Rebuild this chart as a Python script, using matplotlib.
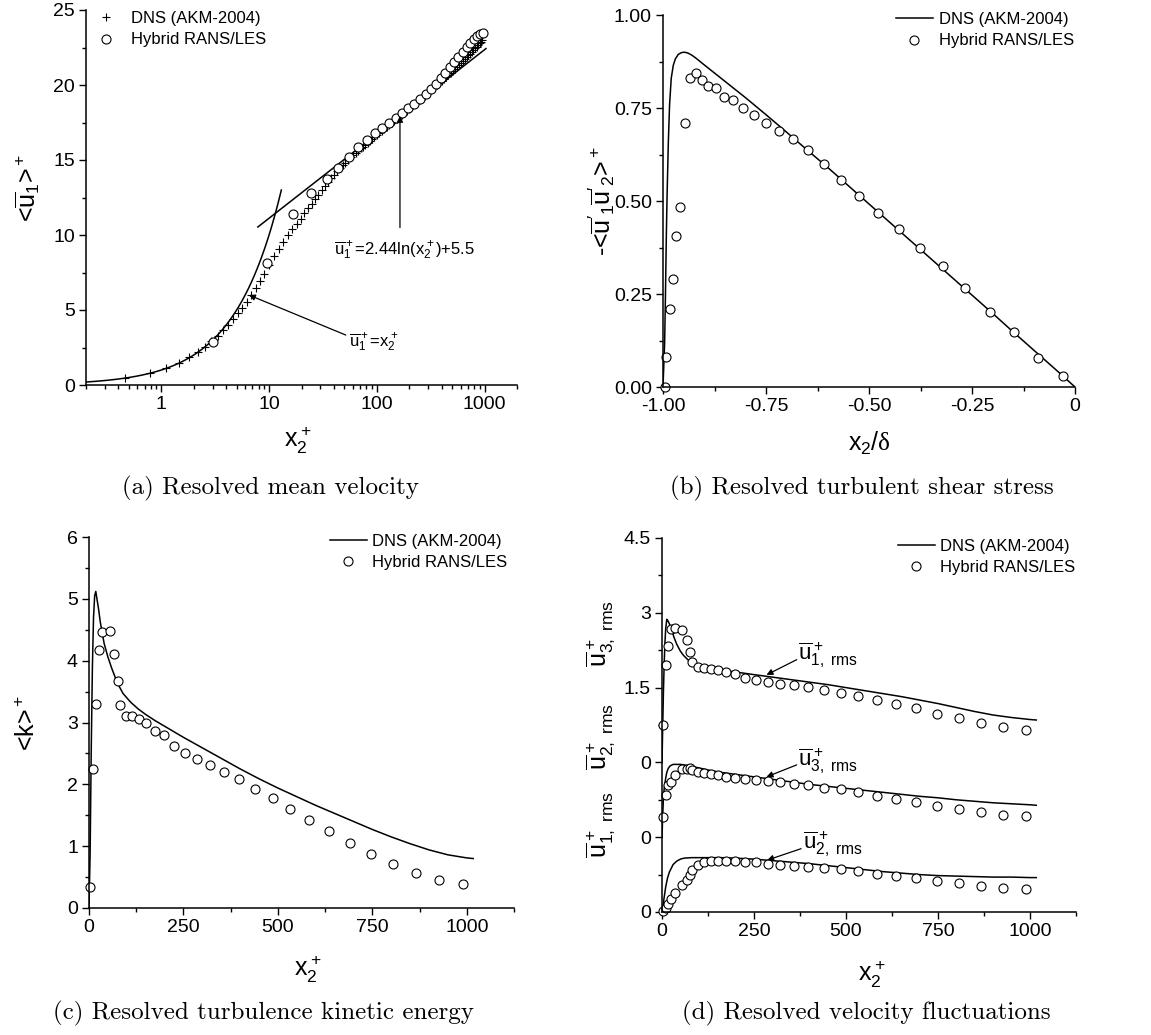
import numpy as np
import matplotlib
matplotlib.use("Agg")
import matplotlib.pyplot as plt
from matplotlib.ticker import FixedLocator, MultipleLocator, LogLocator, NullFormatter, FixedFormatter

plt.rcParams['font.family'] = ['Liberation Sans', 'DejaVu Sans']
plt.rcParams['mathtext.fontset'] = 'custom'
plt.rcParams['mathtext.rm'] = 'Liberation Sans'
plt.rcParams['mathtext.it'] = 'Liberation Sans'
plt.rcParams['mathtext.bf'] = 'Liberation Sans:bold'
plt.rcParams['mathtext.cal'] = 'Liberation Serif'
plt.rcParams['axes.unicode_minus'] = False

# ---------------- (a) mean velocity ----------------
dns_a_x = [0.46, 0.78, 1.10, 1.47, 1.82, 2.18, 2.55, 2.92, 3.34, 3.75, 4.17, 4.64, 5.13, 5.63,
           6.18, 6.83, 7.49, 8.2, 8.95, 9.96, 11.1, 12.3, 13.6, 15.0, 16.5, 18.0, 19.6, 21.3,
           23.0, 24.8, 26.7, 28.7, 30.8, 33.0, 35.3, 37.7, 40.2, 42.8, 45.5, 48.3, 51.2, 54.2,
           57.3, 60.5, 63.8, 67.2, 70.7, 74.3, 78.0, 82.0, 86.0, 90.0, 95.0, 100, 105, 111, 117,
           123, 130, 137, 145, 153, 161, 170, 180, 190, 200, 212, 224, 237, 250, 264, 279, 294,
           310, 327, 344, 362, 381, 400, 420, 441, 462, 484, 507, 530, 554, 578, 603, 628, 654,
           680, 707, 734, 761, 789, 817, 845, 873, 901, 929, 955]
dns_a_u = [0.49, 0.82, 1.11, 1.50, 1.85, 2.20, 2.55, 2.92, 3.30, 3.67, 4.02, 4.40, 4.78, 5.16,
           5.56, 5.98, 6.45, 6.95, 7.42, 7.98, 8.58, 9.10, 9.56, 10.00, 10.40, 10.75, 11.10, 11.45,
           11.77, 12.08, 12.40, 12.69, 12.98, 13.26, 13.53, 13.78, 14.01, 14.24, 14.45, 14.64, 14.82, 15.00,
           15.17, 15.33, 15.48, 15.63, 15.77, 15.90, 16.03, 16.16, 16.29, 16.41, 16.55, 16.69, 16.81, 16.95, 17.08,
           17.21, 17.35, 17.48, 17.62, 17.76, 17.90, 18.03, 18.17, 18.30, 18.43, 18.58, 18.73, 18.87, 19.01, 19.16, 19.30, 19.44,
           19.58, 19.73, 19.86, 20.01, 20.14, 20.28, 20.42, 20.56, 20.69, 20.82, 20.96, 21.09, 21.21, 21.35, 21.47, 21.60, 21.72,
           21.84, 21.97, 22.09, 22.21, 22.33, 22.44, 22.55, 22.66, 22.78, 22.90, 23.00]
les_a_x = [3.03, 9.48, 16.8, 24.7, 34.3, 43.7, 55.3, 67, 80.7, 95.8, 111, 130, 150, 173, 196, 222,
           253, 286, 318, 354, 394, 432, 478, 524, 571, 627, 683, 738, 794, 852, 908, 962]
les_a_u = [2.89, 8.11, 11.38, 12.82, 13.71, 14.44, 15.22, 15.89, 16.33, 16.82, 17.11, 17.44, 17.78,
           18.11, 18.44, 18.73, 19.04, 19.38, 19.71, 20.07, 20.45, 20.82, 21.22, 21.56, 21.89, 22.22,
           22.56, 22.82, 23.07, 23.27, 23.40, 23.49]
# wall laws: u+ = x+ and u+ = 2.44 ln(x+) + 5.5
KAPPA_INV, B_CONST = 2.44, 5.5
visc_range = (0.2, 13.0)
log_range = (7.87, 1030.0)

# ---------------- (b) shear stress ----------------
dns_b_x = [-1.0, -0.996, -0.994, -0.992, -0.990, -0.987, -0.984, -0.980, -0.975, -0.970, -0.963,
           -0.955, -0.948, -0.940, -0.930, -0.92, -0.90, -0.85, -0.80, -0.75, -0.70, -0.65, -0.60,
           -0.55, -0.50, -0.45, -0.40, -0.35, -0.30, -0.25, -0.20, -0.15, -0.10, -0.05, 0.0]
dns_b_y = [0.0, 0.12, 0.25, 0.40, 0.52, 0.66, 0.76, 0.83, 0.865, 0.882, 0.894, 0.899, 0.900, 0.898,
           0.892, 0.884, 0.866, 0.822, 0.778, 0.732, 0.685, 0.637, 0.590, 0.541, 0.492, 0.443, 0.394,
           0.345, 0.296, 0.247, 0.198, 0.148, 0.099, 0.050, 0.0]
les_b_x = [-0.996, -0.992, -0.984, -0.976, -0.968, -0.958, -0.947, -0.935, -0.921, -0.905, -0.890,
           -0.871, -0.851, -0.829, -0.806, -0.779, -0.750, -0.719, -0.685, -0.649, -0.610, -0.568,
           -0.524, -0.477, -0.427, -0.376, -0.321, -0.266, -0.207, -0.149, -0.089, -0.028]
les_b_y = [0.0, 0.080, 0.210, 0.289, 0.407, 0.484, 0.711, 0.830, 0.843, 0.825, 0.809, 0.803, 0.780,
           0.771, 0.749, 0.731, 0.711, 0.687, 0.666, 0.637, 0.600, 0.557, 0.514, 0.468, 0.425, 0.374,
           0.324, 0.266, 0.202, 0.148, 0.078, 0.029]

# ---------------- (c) kinetic energy ----------------
dns_k_x = [0, 3, 6, 9, 12, 15, 18, 21, 25, 30, 40, 50, 60, 75, 90, 110, 130, 150, 175, 200, 250,
           300, 350, 400, 450, 500, 550, 600, 650, 700, 750, 800, 850, 900, 950, 1000, 1017]
dns_k = [0.0, 0.9, 2.6, 3.9, 4.7, 5.05, 5.12, 5.0, 4.85, 4.62, 4.28, 4.06, 3.88, 3.64, 3.47, 3.33,
         3.22, 3.13, 3.03, 2.94, 2.76, 2.59, 2.42, 2.25, 2.09, 1.94, 1.80, 1.66, 1.53, 1.40, 1.27,
         1.15, 1.04, 0.94, 0.86, 0.81, 0.80]
les_x = [3.5, 10.6, 17.6, 25.5, 34, 55, 67, 75.5, 82.5, 97, 114, 132, 152, 175, 199, 226, 255, 287,
         320, 358, 397, 440, 486, 533, 583, 636, 691, 747, 806, 866, 927, 989]
les_k = [0.34, 2.25, 3.30, 4.18, 4.46, 4.48, 4.10, 3.67, 3.28, 3.10, 3.11, 3.05, 2.99, 2.87, 2.79,
         2.62, 2.51, 2.41, 2.31, 2.20, 2.09, 1.93, 1.78, 1.60, 1.42, 1.25, 1.05, 0.88, 0.71, 0.56,
         0.45, 0.39]

# ---------------- (d) rms fluctuations ----------------
dns_u1_x = [0, 2, 4, 6, 8, 10, 13, 16, 20, 26, 33, 40, 50, 58, 70, 85, 100, 130, 160, 203, 250, 300,
            350, 400, 450, 500, 550, 600, 650, 700, 750, 800, 850, 900, 950, 1000, 1017]
dns_u1 = [0.0, 0.75, 1.45, 2.0, 2.4, 2.68, 2.87, 2.84, 2.78, 2.66, 2.50, 2.37, 2.23, 2.15, 2.06,
          1.99, 1.95, 1.88, 1.85, 1.81, 1.76, 1.71, 1.66, 1.61, 1.56, 1.50, 1.44, 1.38, 1.32, 1.25,
          1.18, 1.10, 1.02, 0.95, 0.90, 0.86, 0.85]
dns_u3_x = [0, 2, 4, 6, 8, 10, 13, 17, 22, 30, 40, 50, 60, 80, 100, 130, 160, 200, 250, 300, 350,
            400, 450, 500, 550, 600, 650, 700, 750, 800, 850, 900, 950, 1000, 1017]
dns_u3 = [0.0, 0.45, 0.8, 0.98, 1.08, 1.18, 1.30, 1.38, 1.43, 1.46, 1.46, 1.46, 1.45, 1.42, 1.39,
          1.34, 1.30, 1.26, 1.21, 1.16, 1.11, 1.06, 1.02, 0.98, 0.94, 0.90, 0.86, 0.82, 0.79, 0.75,
          0.72, 0.69, 0.67, 0.65, 0.64]
dns_u2_x = [0, 3, 5, 10, 15, 20, 30, 40, 50, 60, 80, 100, 130, 160, 200, 250, 300, 350, 400, 450,
            500, 550, 600, 650, 700, 750, 800, 850, 900, 950, 1000, 1017]
dns_u2 = [0.0, 0.14, 0.25, 0.50, 0.68, 0.80, 0.95, 1.02, 1.06, 1.08, 1.09, 1.09, 1.09, 1.09, 1.08,
          1.06, 1.03, 1.00, 0.97, 0.93, 0.89, 0.85, 0.81, 0.78, 0.75, 0.73, 0.72, 0.71, 0.70, 0.70,
          0.69, 0.69]
les_u1 = [0.74, 1.95, 2.34, 2.67, 2.69, 2.65, 2.46, 2.22, 2.02, 1.92, 1.90, 1.88, 1.85, 1.81, 1.77,
          1.70, 1.65, 1.62, 1.58, 1.55, 1.51, 1.45, 1.40, 1.33, 1.25, 1.18, 1.09, 0.98, 0.89, 0.80,
          0.70, 0.65]
les_u3 = [0.41, 0.84, 1.04, 1.11, 1.25, 1.36, 1.37, 1.38, 1.34, 1.31, 1.28, 1.26, 1.25, 1.21, 1.19,
          1.16, 1.14, 1.12, 1.10, 1.06, 1.04, 0.99, 0.96, 0.90, 0.83, 0.77, 0.70, 0.62, 0.56, 0.50,
          0.44, 0.42]
les_u2 = [0.02, 0.075, 0.16, 0.27, 0.38, 0.55, 0.65, 0.75, 0.85, 0.95, 1.01, 1.02, 1.02, 1.02, 1.02,
          1.00, 1.00, 0.97, 0.95, 0.93, 0.91, 0.89, 0.86, 0.83, 0.77, 0.73, 0.68, 0.63, 0.58, 0.53,
          0.49, 0.46]
# stacked layers: zero level of each component on the shared axis
U1_ZERO, U3_ZERO, U2_ZERO = 0.0, -1.5, -3.0
d_ticks = [-3.0, -1.5, 0.0, 1.5, 3.0, 4.5]
d_ticklabels = ['0', '0', '0', '1.5', '3', '4.5']

captions = ['(a) Resolved mean velocity', '(b) Resolved turbulent shear stress',
            '(c) Resolved turbulence kinetic energy', '(d) Resolved velocity fluctuations']
LBL_DNS = 'DNS (AKM-2004)'
LBL_LES = 'Hybrid RANS/LES'

# ---------------- styling ----------------
W, H = 1151, 1035
fig = plt.figure(figsize=(W / 100, H / 100), dpi=100)
TICK_FS = 14
LAB_FS = 18
LEG_FS = 12
LW = 1.1
circ = dict(ls='none', marker='o', ms=6.5, mfc='white', mec='black', mew=0.8)
arrow = dict(arrowstyle='-|>', color='black', lw=0.9, mutation_scale=9, shrinkA=0, shrinkB=0)


def px_axes(l, t, r, b):
    return fig.add_axes([l / W, 1 - b / H, (r - l) / W, (b - t) / H])


def style(ax):
    for s in ('top', 'right'):
        ax.spines[s].set_visible(False)
    for s in ('left', 'bottom'):
        ax.spines[s].set_linewidth(1.1)
    ax.tick_params(which='major', direction='out', length=5, width=1.0, labelsize=TICK_FS, pad=3)
    ax.tick_params(which='minor', direction='out', length=3, width=1.0)


def side_label(ax, x, y, txt):
    ax.text(x, y, txt, transform=ax.transAxes, rotation=90, ha='center', va='center',
            fontsize=LAB_FS)


def bottom_label(ax, x, y, txt):
    ax.text(x, y, txt, transform=ax.transAxes, ha='center', va='center', fontsize=LAB_FS)


def legend(ax, handles, x, y):
    ax.legend(handles=handles, loc='upper left', bbox_to_anchor=(x / W, 1 - y / H),
              bbox_transform=fig.transFigure, frameon=False, fontsize=LEG_FS,
              handlelength=2.2, handletextpad=0.35, labelspacing=0.38, borderpad=0,
              borderaxespad=0)


# ---------------- (a) ----------------
axa = px_axes(86, 10, 517, 385)
style(axa)
axa.set_xscale('log')
axa.set_xlim(0.2, 2000)
axa.set_ylim(0, 25)
xv = np.geomspace(*visc_range, 60)
axa.plot(xv, xv, color='black', lw=LW)
xl = np.geomspace(*log_range, 60)
axa.plot(xl, KAPPA_INV * np.log(xl) + B_CONST, color='black', lw=LW)
hd = axa.plot(dns_a_x, dns_a_u, ls='none', marker='+', ms=6, mec='black', mew=0.8, label=LBL_DNS)[0]
hl = axa.plot(les_a_x, les_a_u, label=LBL_LES, **circ)[0]
axa.xaxis.set_major_locator(FixedLocator([1, 10, 100, 1000]))
axa.xaxis.set_major_formatter(FixedFormatter(['1', '10', '100', '1000']))
axa.xaxis.set_minor_locator(LogLocator(base=10, subs=np.arange(2, 10), numticks=20))
axa.xaxis.set_minor_formatter(NullFormatter())
axa.yaxis.set_major_locator(MultipleLocator(5))
axa.yaxis.set_minor_locator(MultipleLocator(2.5))
side_label(axa, -0.135, 0.525, r'<$\overline{u}_1$>$^+$')
bottom_label(axa, 0.492, -0.148, r'$x_2^+$')
axa.annotate('', xy=(6.5, 6.0), xytext=(51.5, 3.33), arrowprops=arrow)
axa.text(55, 2.85, r'$\overline{u}_1^+$=$x_2^+$', fontsize=LEG_FS, va='center', ha='left')
x_arrow = 164
axa.annotate('', xy=(x_arrow, KAPPA_INV * np.log(x_arrow) + B_CONST), xytext=(x_arrow, 10.5),
             arrowprops=arrow)
axa.text(39.8, 9.0, r'$\overline{u}_1^+$=2.44ln($x_2^+$)+5.5', fontsize=LEG_FS, va='center', ha='left')
axa.legend(handles=[hd, hl], loc='upper left', bbox_to_anchor=(96 / W, 1 - 11 / H),
           bbox_transform=fig.transFigure, frameon=False, fontsize=LEG_FS, handlelength=1.2,
           handletextpad=0.9, labelspacing=0.38, borderpad=0, borderaxespad=0)

# ---------------- (b) ----------------
axb = px_axes(663, 15, 1075, 387)
style(axb)
axb.set_xlim(-1.0, 0.0)
axb.set_ylim(0.0, 1.0)
h1 = axb.plot(dns_b_x, dns_b_y, color='black', lw=LW, label=LBL_DNS)[0]
h2 = axb.plot(les_b_x, les_b_y, label=LBL_LES, clip_on=False, **circ)[0]
axb.xaxis.set_major_locator(FixedLocator([-1.0, -0.75, -0.5, -0.25, 0.0]))
axb.xaxis.set_major_formatter(FixedFormatter(['-1.00', '-0.75', '-0.50', '-0.25', '0']))
axb.xaxis.set_minor_locator(MultipleLocator(0.125))
axb.yaxis.set_major_locator(FixedLocator([0.0, 0.25, 0.5, 0.75, 1.0]))
axb.yaxis.set_major_formatter(FixedFormatter(['0.00', '0.25', '0.50', '0.75', '1.00']))
axb.yaxis.set_minor_locator(MultipleLocator(0.125))
side_label(axb, -0.148, 0.5, r"-<$\overline{u}'_1\overline{u}'_2$>$^+$")
bottom_label(axb, 0.5, -0.152, r'$x_2/\mathcal{δ}$')
legend(axb, [h1, h2], 896, 12)

# ---------------- (c) ----------------
axc = px_axes(89, 537, 514, 908)
style(axc)
axc.set_xlim(0, 1125)
axc.set_ylim(0, 6)
h1 = axc.plot(dns_k_x, dns_k, color='black', lw=LW, label=LBL_DNS)[0]
h2 = axc.plot(les_x, les_k, label=LBL_LES, clip_on=False, **circ)[0]
axc.xaxis.set_major_locator(FixedLocator([0, 250, 500, 750, 1000]))
axc.xaxis.set_minor_locator(FixedLocator([125, 375, 625, 875, 1125]))
axc.yaxis.set_major_locator(MultipleLocator(1))
axc.yaxis.set_minor_locator(MultipleLocator(0.5))
side_label(axc, -0.143, 0.5, r'<k>$^+$')
bottom_label(axc, 0.515, -0.165, r'$x_2^+$')
legend(axc, [h1, h2], 330, 534)

# ---------------- (d) ----------------
axd = px_axes(662, 538, 1076, 912)
style(axd)
axd.set_xlim(0, 1125)
axd.set_ylim(-3.0, 4.5)
h1 = axd.plot(dns_u1_x, np.array(dns_u1) + U1_ZERO, color='black', lw=LW, label=LBL_DNS)[0]
axd.plot(dns_u3_x, np.array(dns_u3) + U3_ZERO, color='black', lw=LW)
axd.plot(dns_u2_x, np.array(dns_u2) + U2_ZERO, color='black', lw=LW)
h2 = axd.plot(les_x, np.array(les_u1) + U1_ZERO, label=LBL_LES, clip_on=False, **circ)[0]
axd.plot(les_x, np.array(les_u3) + U3_ZERO, clip_on=False, **circ)
axd.plot(les_x, np.array(les_u2) + U2_ZERO, clip_on=False, **circ)
axd.xaxis.set_major_locator(FixedLocator([0, 250, 500, 750, 1000]))
axd.xaxis.set_minor_locator(FixedLocator([125, 375, 625, 875, 1125]))
axd.yaxis.set_major_locator(FixedLocator(d_ticks))
axd.yaxis.set_major_formatter(FixedFormatter(d_ticklabels))
axd.yaxis.set_minor_locator(MultipleLocator(0.75))
bottom_label(axd, 0.507, -0.168, r'$x_2^+$')
for ypos, comp in [(0.745, '3'), (0.47, '2'), (0.235, '1')]:
    side_label(axd, -0.148, ypos, r'$\overline{u}^+_{%s,\ \mathrm{rms}}$' % comp)
for (xt, yt), (xa, ya), comp in [((284, 1.755), (366, 2.06), '1'),
                                 ((284, -0.29), (366, -0.05), '3'),
                                 ((286, -1.96), (378, -1.73), '2')]:
    axd.annotate('', xy=(xt, yt), xytext=(xa, ya), arrowprops=arrow)
    axd.text(xa + 4, ya + 0.08, r'$\overline{u}^+_{%s,\ \mathrm{rms}}$' % comp, fontsize=16,
             ha='left', va='center')
legend(axd, [h1, h2], 898, 539)

# ---------------- captions ----------------
for (cx, cy), txt in zip([(270, 488), (862, 488), (263, 1013), (866, 1013)], captions):
    fig.text(cx / W, 1 - cy / H, txt, family='cmr10', fontsize=18, ha='center', va='center')

fig.savefig('out.png', dpi=100)
